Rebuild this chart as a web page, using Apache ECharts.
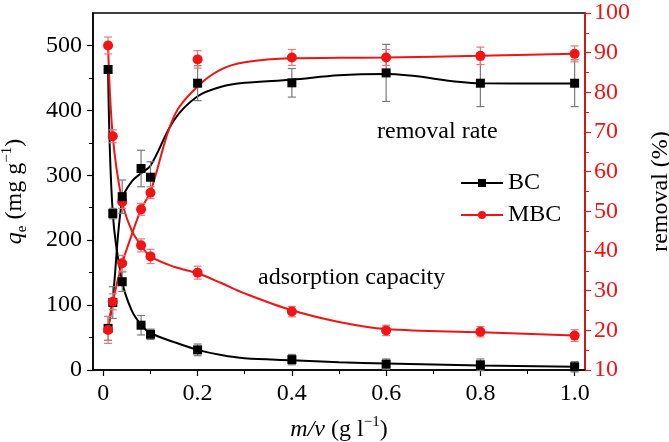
<!DOCTYPE html>
<html>
<head>
<meta charset="utf-8">
<script src="https://cdn.jsdelivr.net/npm/echarts@6/dist/echarts.min.js"></script>
<style>html,body{margin:0;padding:0;background:#fff;}#chart{width:669px;height:442px;}</style>
</head>
<body>
<div id="chart"></div>
<script>
// ---- data ----
const dosage = [0.01, 0.02, 0.04, 0.08, 0.1, 0.2, 0.4, 0.6, 0.8, 1.0];
const bcCapacity = [463, 241, 136, 69, 55, 31, 16, 9, 8, 5];
const bcCapacityErr = [6, 8, 15, 15, 8, 9, 8, 8, 9, 8];
const mbcCapacity = [500, 360, 259, 192, 175, 150, 90, 61, 59, 53];
const mbcCapacityErr = [13, 10, 10, 10, 11, 10, 8, 8, 8, 9];
const bcRemoval = [20.5, 27, 53.7, 60.8, 58.6, 82.3, 82.4, 84.9, 82.3, 82.3];
const bcRemovalErr = [3, 4, 4.2, 4.6, 3.9, 4.4, 3.6, 7.2, 5.9, 5.9];
const mbcRemoval = [20.1, 27.2, 36.9, 50.5, 54.7, 88.3, 88.8, 88.8, 89.2, 89.7];
const mbcRemovalErr = [3.4, 2, 2, 1.5, 1.5, 2.2, 2, 2, 2.2, 2];

// fitted curves
const curveDosage = [0.01, 0.02, 0.04, 0.06, 0.08, 0.1, 0.15, 0.2, 0.25, 0.3, 0.4, 0.5, 0.6, 0.8, 1.0];
const bcCapacityCurve = [463, 241, 136, 92, 70, 57, 43, 31, 23, 18, 15, 12, 10, 7, 5];
const mbcCapacityCurve = [500, 360, 259, 215, 192, 175, 159, 149, 134, 118, 92, 74, 63, 58, 53];
const bcRemovalCurve = [20.5, 28, 53, 57.5, 59.6, 61.5, 73, 79, 81.4, 82.4, 83.2, 84.3, 84.6, 82.3, 82.2];
const mbcRemovalCurve = [20.1, 27.2, 36.9, 44, 50.5, 55, 74, 81.5, 85.8, 87.6, 88.6, 88.7, 88.8, 89.2, 89.7];

const xTicks = [0, 0.2, 0.4, 0.6, 0.8, 1.0];
const leftTicks = [0, 100, 200, 300, 400, 500];
const rightTicks = [10, 20, 30, 40, 50, 60, 70, 80, 90, 100];
const seriesNames = ['BC', 'MBC'];

// ---- chart ----
const FONT = 'Liberation Serif';
const RED = '#f01414';
const chart = echarts.init(document.getElementById('chart'), null, {renderer: 'canvas'});

const pairs = (xs, ys) => xs.map((x, i) => [x, ys[i]]);

function curve(name, ys, color, symbol, yAxisIndex) {
  return {
    type: 'line', name, yAxisIndex, data: pairs(curveDosage, ys),
    smooth: 0.35, symbol, symbolSize: 9, showSymbol: false,
    lineStyle: {color, width: 2}, itemStyle: {color}, z: 2, silent: true
  };
}
function marks(name, ys, color, symbol, size, yAxisIndex) {
  return {
    type: 'scatter', name, yAxisIndex, data: pairs(dosage, ys),
    symbol, symbolSize: size, itemStyle: {color, opacity: 1}, z: 4, silent: true
  };
}
function errBars(name, ys, errs, color, yAxisIndex) {
  return {
    type: 'custom', name, yAxisIndex, silent: true, z: 3,
    data: dosage.map((x, i) => [x, ys[i] - errs[i], ys[i] + errs[i]]),
    renderItem: function (params, api) {
      const lo = api.coord([api.value(0), api.value(1)]);
      const hi = api.coord([api.value(0), api.value(2)]);
      const w = 4;
      const st = {stroke: color, lineWidth: 1.2};
      return {type: 'group', children: [
        {type: 'line', shape: {x1: lo[0], y1: lo[1], x2: hi[0], y2: hi[1]}, style: st},
        {type: 'line', shape: {x1: lo[0] - w, y1: lo[1], x2: lo[0] + w, y2: lo[1]}, style: st},
        {type: 'line', shape: {x1: hi[0] - w, y1: hi[1], x2: hi[0] + w, y2: hi[1]}, style: st}
      ]};
    }
  };
}

const richBase = {
  n: {fontFamily: FONT, fontSize: 24, lineHeight: 30, color: '#000'},
  i: {fontFamily: FONT, fontSize: 24, lineHeight: 30, fontStyle: 'italic', color: '#000'},
  sub: {fontFamily: FONT, fontSize: 15, verticalAlign: 'bottom', color: '#000'},
  sup: {fontFamily: FONT, fontSize: 15, verticalAlign: 'top', color: '#000'}
};

const option = {
  animation: false,
  backgroundColor: '#fff',
  grid: {left: 93, right: 84, top: 13, bottom: 72, outerBoundsMode: 'none', containLabel: false,
    show: true, borderColor: '#000', borderWidth: 1.5, backgroundColor: 'transparent'},
  legend: {
    data: seriesNames, orient: 'vertical', left: 455, top: 166,
    itemWidth: 42, itemHeight: 10, itemGap: 8,
    textStyle: {fontFamily: FONT, fontSize: 24, color: '#000'}
  },
  xAxis: {
    type: 'value', min: -0.022, max: 1.022,
    name: '{i|m/v}{n| (g l}{sup|−1}{n|)}', nameLocation: 'middle', nameGap: 45,
    nameTextStyle: {fontFamily: FONT, fontSize: 24, color: '#000', rich: richBase},
    axisLine: {onZero: false, lineStyle: {color: '#000', width: 1.5}},
    axisTick: {customValues: xTicks, length: 6, lineStyle: {color: '#000', width: 1.2}},
    minorTick: {show: true, splitNumber: 2, length: 4, lineStyle: {color: '#000', width: 1}},
    axisLabel: {customValues: xTicks, margin: 12, fontFamily: FONT, fontSize: 24, color: '#000',
      formatter: v => (v === 0 ? '0' : v.toFixed(1))},
    splitLine: {show: false}
  },
  yAxis: [
    {
      type: 'value', position: 'left', min: 0, max: 550, interval: 100,
      name: '{i|q}{sub|e}{n| (mg g}{sup|−1}{n|)}', nameLocation: 'middle', nameGap: 63,
      nameTextStyle: {fontFamily: FONT, fontSize: 24, color: '#000', rich: richBase},
      axisLine: {show: true, onZero: false, lineStyle: {color: '#000', width: 1.5}},
      axisTick: {show: true, customValues: leftTicks, length: 6, lineStyle: {color: '#000', width: 1.2}},
      minorTick: {show: true, splitNumber: 2, length: 4, lineStyle: {color: '#000', width: 1}},
      axisLabel: {customValues: leftTicks, margin: 11, fontFamily: FONT, fontSize: 24, color: '#000'},
      splitLine: {show: false}
    },
    {
      type: 'value', position: 'right', min: 10, max: 100, interval: 10,
      name: 'removal (%)', nameLocation: 'middle', nameGap: 64,
      nameTextStyle: {fontFamily: FONT, fontSize: 24, color: '#000'},
      axisLine: {show: true, onZero: false, lineStyle: {color: RED, width: 1.5}},
      axisTick: {show: true, customValues: rightTicks, length: 6, lineStyle: {color: RED, width: 1.2}},
      minorTick: {show: true, splitNumber: 2, length: 4, lineStyle: {color: RED, width: 1}},
      axisLabel: {customValues: rightTicks, margin: 9, fontFamily: FONT, fontSize: 24, color: RED},
      splitLine: {show: false}
    }
  ],
  graphic: [
    {type: 'text', left: 377, top: 120, silent: true,
      style: {text: 'removal rate', fontFamily: FONT, fontSize: 24, fill: '#000'}},
    {type: 'text', left: 258, top: 266, silent: true,
      style: {text: 'adsorption capacity', fontFamily: FONT, fontSize: 24, fill: '#000'}}
  ],
  series: [
    curve('BC', bcCapacityCurve, '#000', 'rect', 0),
    curve('MBC', mbcCapacityCurve, RED, 'circle', 0),
    curve('BC', bcRemovalCurve, '#000', 'rect', 1),
    curve('MBC', mbcRemovalCurve, RED, 'circle', 1),
    errBars('BC capacity error', bcCapacity, bcCapacityErr, '#7a7a7a', 0),
    errBars('MBC capacity error', mbcCapacity, mbcCapacityErr, '#e87878', 0),
    errBars('BC removal error', bcRemoval, bcRemovalErr, '#7a7a7a', 1),
    errBars('MBC removal error', mbcRemoval, mbcRemovalErr, '#e87878', 1),
    marks('BC capacity', bcCapacity, '#000', 'rect', 9, 0),
    marks('MBC capacity', mbcCapacity, RED, 'circle', 10, 0),
    marks('BC removal', bcRemoval, '#000', 'rect', 9, 1),
    marks('MBC removal', mbcRemoval, RED, 'circle', 10, 1)
  ]
};
chart.setOption(option);
</script>
</body>
</html>
